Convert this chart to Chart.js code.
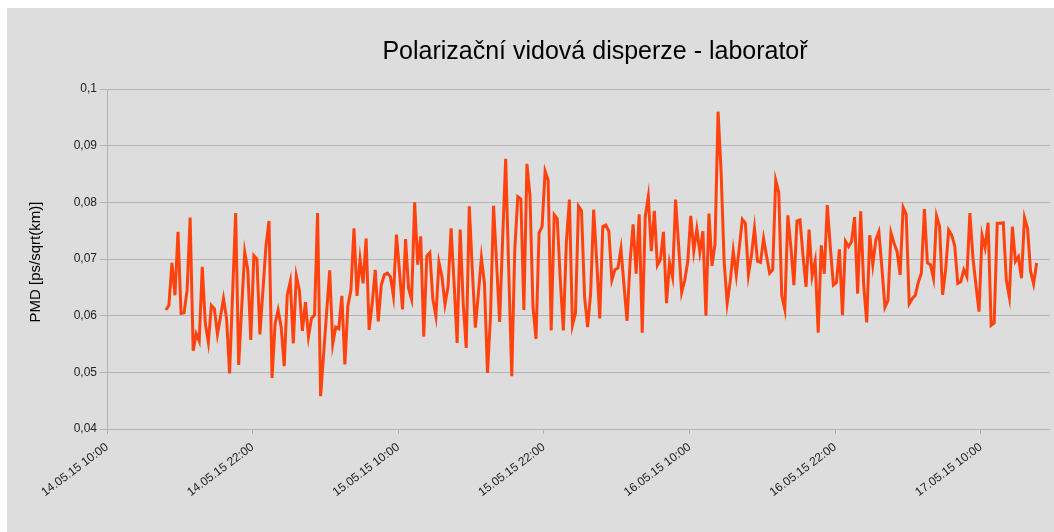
<!DOCTYPE html>
<html>
<head>
<meta charset="utf-8">
<script src="https://cdn.jsdelivr.net/npm/chart.js@4.4.0/dist/chart.umd.min.js"></script>
<style>
  html, body { margin: 0; padding: 0; background: #fff; }
</style>
</head>
<body>
<canvas id="chart" width="1054" height="532"></canvas>
<script>
const chartTitle = 'Polarizační vidová disperze - laboratoř';
const yTitle = 'PMD [ps/sqrt(km)]';

// x axis in hours since 14.05.15 10:00
const xTickHours = [0, 12, 24, 36, 48, 60, 72];
const xTickLabels = ['14.05.15 10:00', '14.05.15 22:00', '15.05.15 10:00', '15.05.15 22:00',
                     '16.05.15 10:00', '16.05.15 22:00', '17.05.15 10:00'];
const firstHour = 4.85;   // first measurement ~14.05.15 14:51
const stepHours = 0.25;   // one measurement every 15 min

// PMD values, per day
const pmd14 = [0.0610, 0.0618, 0.0693, 0.0636, 0.0748, 0.0604, 0.0605, 0.0645, 0.0773, 0.0538,
               0.0568, 0.0555, 0.0686, 0.0586, 0.0553, 0.0618, 0.0612, 0.0567, 0.0598, 0.0630,
               0.0595, 0.0498, 0.0639, 0.0781, 0.0513, 0.0615, 0.0712, 0.0681, 0.0557, 0.0706,
               0.0700, 0.0567, 0.0645, 0.0723, 0.0767, 0.0490, 0.0586];
const pmd15 = [0.0610, 0.0580, 0.0511, 0.0636, 0.0660, 0.0551, 0.0670, 0.0645, 0.0573, 0.0624,
               0.0563, 0.0595, 0.0601, 0.0781, 0.0458, 0.0532, 0.0607, 0.0680, 0.0550, 0.0580,
               0.0577, 0.0635, 0.0514, 0.0618, 0.0645, 0.0754, 0.0635, 0.0700, 0.0657, 0.0736,
               0.0575, 0.0621, 0.0681, 0.0590, 0.0654, 0.0672, 0.0675, 0.0669, 0.0635, 0.0743,
               0.0678, 0.0611, 0.0735, 0.0648, 0.0629, 0.0800, 0.0690, 0.0740, 0.0563, 0.0705,
               0.0711, 0.0629, 0.0599, 0.0694, 0.0669, 0.0620, 0.0651, 0.0754, 0.0657, 0.0552,
               0.0752, 0.0621, 0.0543, 0.0793, 0.0681, 0.0579, 0.0639, 0.0702, 0.0657, 0.0499,
               0.0599, 0.0794, 0.0693, 0.0589, 0.0735, 0.0877, 0.0681, 0.0493, 0.0717, 0.0810,
               0.0806, 0.0610, 0.0868, 0.0812, 0.0615, 0.0559, 0.0746, 0.0757, 0.0855, 0.0839,
               0.0574, 0.0778, 0.0771, 0.0663, 0.0574, 0.0729];
const pmd16 = [0.0805, 0.0583, 0.0604, 0.0793, 0.0785, 0.0633, 0.0580, 0.0639, 0.0787, 0.0696,
               0.0595, 0.0757, 0.0760, 0.0749, 0.0663, 0.0681, 0.0684, 0.0718, 0.0653, 0.0591,
               0.0695, 0.0761, 0.0674, 0.0779, 0.0570, 0.0775, 0.0810, 0.0714, 0.0785, 0.0689,
               0.0699, 0.0748, 0.0622, 0.0693, 0.0668, 0.0805, 0.0724, 0.0641, 0.0662, 0.0695,
               0.0776, 0.0714, 0.0753, 0.0712, 0.0749, 0.0600, 0.0780, 0.0688, 0.0727, 0.0960,
               0.0854, 0.0695, 0.0622, 0.0660, 0.0714, 0.0672, 0.0721, 0.0770, 0.0763, 0.0672,
               0.0706, 0.0754, 0.0696, 0.0694, 0.0736, 0.0705, 0.0675, 0.0681, 0.0839, 0.0818,
               0.0635, 0.0611, 0.0777, 0.0721, 0.0654, 0.0767, 0.0769, 0.0706, 0.0651, 0.0752,
               0.0670, 0.0696, 0.0570, 0.0724, 0.0674, 0.0795, 0.0721, 0.0654, 0.0658, 0.0717,
               0.0601, 0.0731, 0.0722, 0.0731, 0.0774, 0.0639];
const pmd17 = [0.0784, 0.0654, 0.0588, 0.0742, 0.0690, 0.0734, 0.0748, 0.0684, 0.0615, 0.0627,
               0.0746, 0.0728, 0.0713, 0.0672, 0.0791, 0.0779, 0.0621, 0.0630, 0.0636, 0.0659,
               0.0675, 0.0788, 0.0693, 0.0690, 0.0666, 0.0776, 0.0758, 0.0637, 0.0681, 0.0751,
               0.0742, 0.0723, 0.0657, 0.0660, 0.0681, 0.0669, 0.0781, 0.0702, 0.0654, 0.0607,
               0.0742, 0.0720, 0.0764, 0.0583, 0.0587, 0.0763, 0.0763, 0.0764, 0.0663, 0.0633,
               0.0757, 0.0696, 0.0704, 0.0666, 0.0773, 0.0754, 0.0678, 0.0656, 0.0693];

const pmdValues = pmd14.concat(pmd15, pmd16, pmd17);
const points = pmdValues.map((v, i) => ({ x: firstHour + i * stepHours, y: v }));

const tickFont = { family: '"Liberation Sans", Arial, sans-serif', size: 12 };

const decor = {
    id: 'decor',
    beforeDraw(chart) {
        const ctx = chart.ctx;
        ctx.save();
        ctx.fillStyle = '#ffffff';
        ctx.fillRect(0, 0, chart.width, chart.height);
        ctx.fillStyle = '#dddddd';
        ctx.fillRect(7, 8, chart.width - 7, chart.height - 8);
        ctx.restore();
    },
    afterDraw(chart) {
        const ctx = chart.ctx;
        ctx.save();
        ctx.fillStyle = '#000';
        ctx.textAlign = 'center';
        ctx.textBaseline = 'middle';
        ctx.font = '25px "Liberation Sans", Arial, sans-serif';
        ctx.fillText(chartTitle, 595, 52);
        ctx.font = '15px "Liberation Sans", Arial, sans-serif';
        ctx.translate(36, 262);
        ctx.rotate(-Math.PI / 2);
        ctx.fillText(yTitle, 0, 0);
        ctx.restore();
    }
};

new Chart(document.getElementById('chart'), {
    type: 'line',
    data: {
        datasets: [{
            data: points,
            borderColor: '#ff420e',
            borderWidth: 3,
            pointRadius: 0,
            tension: 0,
            fill: false
        }]
    },
    options: {
        responsive: false,
        animation: false,
        layout: { padding: { top: 89, right: 4, bottom: 0, left: 0 } },
        plugins: { legend: { display: false }, tooltip: { enabled: false } },
        scales: {
            x: {
                type: 'linear',
                min: 0,
                max: 77.7,
                afterBuildTicks: axis => { axis.ticks = xTickHours.map(v => ({ value: v })); },
                afterFit: axis => { axis.height = 103; },
                ticks: {
                    autoSkip: false,
                    minRotation: 37,
                    maxRotation: 37,
                    padding: 6,
                    color: '#222',
                    font: tickFont,
                    callback: v => xTickLabels[xTickHours.indexOf(v)]
                },
                grid: { drawOnChartArea: false, drawTicks: true, tickLength: 5, color: '#b3b3b3' },
                border: { display: false }
            },
            y: {
                min: 0.04,
                max: 0.1,
                afterFit: axis => { axis.width = 107; },
                ticks: {
                    stepSize: 0.01,
                    padding: 3,
                    color: '#222',
                    font: tickFont,
                    callback: v => String(Math.round(v * 100) / 100).replace('.', ',')
                },
                grid: { color: '#b3b3b3', tickLength: 7 },
                border: { display: true, color: '#b3b3b3', width: 1 }
            }
        }
    },
    plugins: [decor]
});
</script>
</body>
</html>
